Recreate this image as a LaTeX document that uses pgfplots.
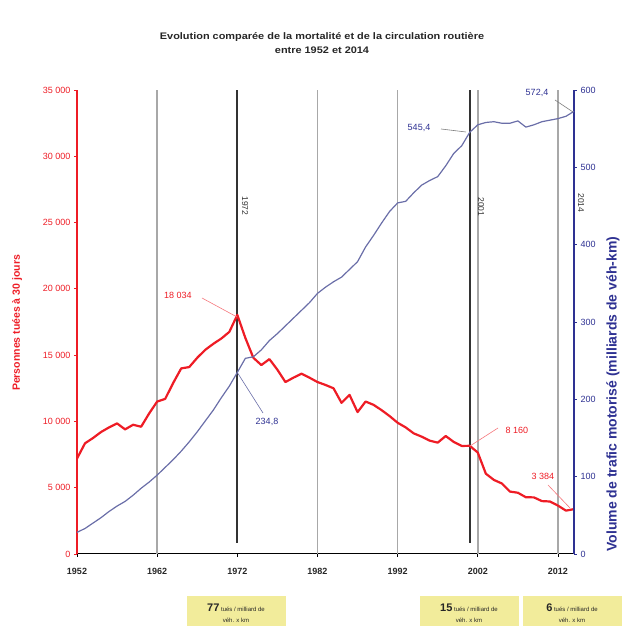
\documentclass[border=0pt]{standalone}
\usepackage{pgfplots}
\pgfplotsset{compat=1.18}
\usepackage{fontspec}
\setmainfont{Liberation Sans}
\definecolor{myred}{HTML}{EE1C25}
\definecolor{navy}{HTML}{2E3192}
\definecolor{slate}{HTML}{6A6EA8}
\definecolor{vgray}{HTML}{A8A8A8}
\definecolor{boxy}{HTML}{F2EC9B}
\definecolor{dline}{HTML}{333333}
\begin{document}
\begin{tikzpicture}[x=1pt,y=1pt]
\useasboundingbox (0,0) rectangle (627,626);
% title
\node[align=center,font=\fontsize{9.5}{14}\selectfont\bfseries,text=black!85] at (322,583)
  {\scalebox{1.15}[1]{Evolution comparée de la mortalité et de la circulation routière}\\\scalebox{1.15}[1]{entre 1952 et 2014}};
\begin{axis}[
  at={(77pt,72pt)}, anchor=south west,
  scale only axis, width=497pt, height=464pt,
  xmin=1952, xmax=2014, ymin=0, ymax=35000,
  scaled y ticks=false,
  axis x line*=bottom, axis y line*=left,
  x axis line style={black, line width=1pt},
  y axis line style={myred, line width=1.3pt},
  xtick={1952,1962,1972,1982,1992,2002,2012},
  xticklabels={1952,1962,1972,1982,1992,2002,2012},
  ytick={0,5000,10000,15000,20000,25000,30000,35000},
  yticklabels={0,5 000,10 000,15 000,20 000,25 000,30 000,35 000},
  tick align=outside, major tick length=3pt,
  xtick style={black, line width=0.8pt},
  ytick style={myred, line width=0.8pt},
  xticklabel style={font=\fontsize{9}{10}\selectfont\bfseries, text=black!85, yshift=-8pt},
  yticklabel style={font=\fontsize{9}{10}\selectfont, text=myred},
  clip=false,
]
% vertical reference lines
\addplot[vgray, line width=1.5pt] coordinates {(1962,0) (1962,35000)};
\addplot[vgray, line width=1.5pt] coordinates {(1982,0) (1982,35000)};
\addplot[vgray, line width=1.5pt] coordinates {(1992,0) (1992,35000)};
\addplot[vgray, line width=1.5pt] coordinates {(2002,0) (2002,35000)};
\addplot[vgray, line width=1.5pt] coordinates {(2012,0) (2012,35000)};
\addplot[dline, line width=2pt] coordinates {(1972,850) (1972,35000)};
\addplot[dline, line width=2pt] coordinates {(2001,850) (2001,35000)};
% deaths
\addplot[myred, line width=2.2pt, line join=round] coordinates {
(1952,7200)(1953,8350)(1954,8750)(1955,9200)(1956,9550)(1957,9850)(1958,9400)(1959,9750)
(1960,9600)(1961,10600)(1962,11500)(1963,11700)(1964,12900)(1965,14000)(1966,14100)(1967,14800)
(1968,15400)(1969,15850)(1970,16250)(1971,16750)(1972,18034)(1973,16300)(1974,14800)(1975,14250)
(1976,14700)(1977,13900)(1978,12970)(1979,13300)(1980,13600)(1981,13300)(1982,12970)(1983,12750)
(1984,12500)(1985,11400)(1986,12000)(1987,10700)(1988,11500)(1989,11250)(1990,10850)(1991,10400)
(1992,9900)(1993,9550)(1994,9100)(1995,8850)(1996,8550)(1997,8400)(1998,8900)(1999,8450)
(2000,8150)(2001,8160)(2002,7650)(2003,6060)(2004,5590)(2005,5320)(2006,4710)(2007,4620)
(2008,4280)(2009,4270)(2010,3990)(2011,3960)(2012,3650)(2013,3270)(2014,3384)};
\end{axis}
\begin{axis}[
  at={(77pt,72pt)}, anchor=south west,
  scale only axis, width=497pt, height=464pt,
  xmin=1952, xmax=2014, ymin=0, ymax=600,
  axis x line=none, axis y line*=right,
  y axis line style={navy, line width=1.3pt},
  ytick={0,100,200,300,400,500,600},
  yticklabels={0,100,200,300,400,500,600},
  tick align=outside, major tick length=3pt,
  ytick style={navy, line width=0.8pt},
  yticklabel style={font=\fontsize{9}{10}\selectfont, text=navy},
  clip=false,
]
\addplot[slate, line width=1.2pt, line join=round] coordinates {
(1952,28)(1953,33)(1954,40)(1955,47)(1956,55)(1957,62)(1958,68)(1959,76)(1960,85)(1961,93)
(1962,102)(1963,112)(1964,122)(1965,133)(1966,145)(1967,158)(1968,172)(1969,186)(1970,202)(1971,217)
(1972,234.8)(1973,253)(1974,255)(1975,264)(1976,276)(1977,285)(1978,295)(1979,305)(1980,315)(1981,325)
(1982,337)(1983,345)(1984,352)(1985,358)(1986,368)(1987,378)(1988,397)(1989,412)(1990,428)(1991,443)
(1992,454)(1993,456)(1994,467)(1995,477)(1996,483)(1997,488)(1998,502)(1999,518)(2000,528)(2001,545.4)
(2002,555)(2003,558)(2004,559)(2005,557)(2006,557)(2007,560)(2008,552)(2009,555)(2010,559)(2011,561)
(2012,563)(2013,566)(2014,572.4)};
\end{axis}
% axis titles
\node[rotate=90, font=\fontsize{10.5}{12}\selectfont\bfseries, text=myred] at (17,303) {Personnes tuées à 30 jours};
\node[rotate=90, anchor=west, font=\fontsize{14}{16}\selectfont\bfseries, text=navy] at (613,71) {Volume de trafic motorisé (milliards de véh-km)};
% vertical line labels
\node[rotate=-90, font=\fontsize{8.5}{9}\selectfont, text=black!80] at (245,420) {1972};
\node[rotate=-90, font=\fontsize{8.5}{9}\selectfont, text=black!80] at (481,419) {2001};
\node[rotate=-90, font=\fontsize{8.5}{9}\selectfont, text=black!80] at (581,423) {2014};
% annotations
\draw[myred!60, line width=0.6pt] (202,328) -- (237,309);
\node[font=\fontsize{9}{10}\selectfont, text=myred] at (178,331) {18 034};
\draw[slate, line width=0.6pt] (237,254) -- (263,213);
\node[font=\fontsize{9}{10}\selectfont, text=navy] at (267,204) {234,8};
\draw[gray, line width=0.6pt] (441,497) -- (466,494);
\node[font=\fontsize{9}{10}\selectfont, text=navy] at (419,498) {545,4};
\draw[gray, line width=0.6pt] (555,526) -- (573,514);
\node[font=\fontsize{9}{10}\selectfont, text=navy] at (537,533) {572,4};
\draw[myred!60, line width=0.6pt] (498,198) -- (470,180);
\node[font=\fontsize{9}{10}\selectfont, text=myred] at (517,196) {8 160};
\draw[myred!60, line width=0.6pt] (548,141) -- (570,118);
\node[font=\fontsize{9}{10}\selectfont, text=myred] at (543,150) {3 384};
% yellow boxes
\foreach \cx/\num in {236/77, 469/15, 572/6} {
  \fill[boxy] (\cx-49.5,0) rectangle (\cx+49.5,30);
  \node[font=\fontsize{6}{7}\selectfont, text=black!85] at (\cx,18) {{\fontsize{11}{12}\selectfont\bfseries \num} tués / milliard de};
  \node[font=\fontsize{6}{7}\selectfont, text=black!85] at (\cx,6) {véh. x km};
}
\end{tikzpicture}
\end{document}
